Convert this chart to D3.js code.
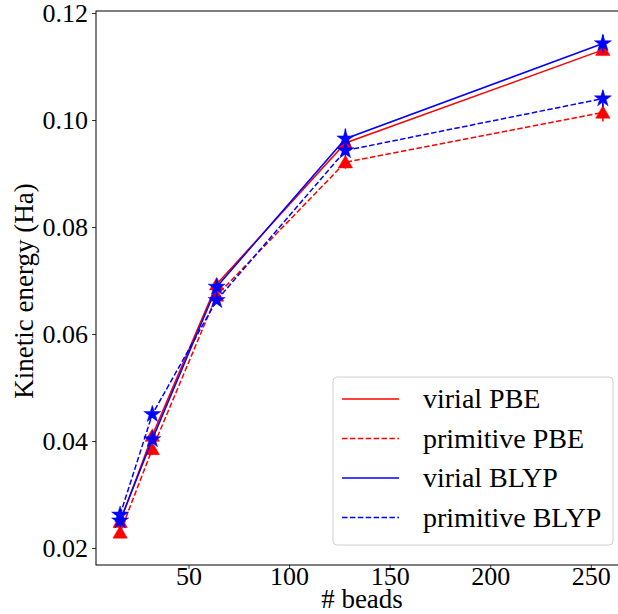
<!DOCTYPE html>
<html><head><meta charset="utf-8">
<script src="https://cdn.jsdelivr.net/npm/d3@7"></script>
<style>html,body{margin:0;padding:0;background:#fff;overflow:hidden}</style>
</head><body>
<svg id="c" width="618" height="614"></svg>
<script>
const beads = [16, 32, 64, 128, 256];
const virialPBE = [0.0249, 0.0410, 0.0693, 0.0957, 0.1131];
const virialPBEErr = [0.0010, 0.0008, 0.0008, 0.0012, 0.0008];
const primitivePBE = [0.0229, 0.0385, 0.0672, 0.0921, 0.1014];
const primitivePBEErr = [0.0006, 0.0006, 0.0008, 0.0012, 0.0017];
const virialBLYP = [0.0251, 0.0403, 0.0688, 0.0965, 0.1143];
const virialBLYPErr = [0.0012, 0.0008, 0.0008, 0.0019, 0.0017];
const primitiveBLYP = [0.0262, 0.0450, 0.0663, 0.0943, 0.1040];
const primitiveBLYPErr = [0.0006, 0.0006, 0.0006, 0.0010, 0.0015];
const xTicks = [50, 100, 150, 200, 250];
const yTicks = [0.02, 0.04, 0.06, 0.08, 0.10, 0.12];

const series = [
  {name: "virial PBE", vals: virialPBE, err: virialPBEErr, color: "#ff0000", dash: null, marker: "tri"},
  {name: "primitive PBE", vals: primitivePBE, err: primitivePBEErr, color: "#ff0000", dash: "5.5,2.4", marker: "tri"},
  {name: "virial BLYP", vals: virialBLYP, err: virialBLYPErr, color: "#0000ff", dash: null, marker: "star"},
  {name: "primitive BLYP", vals: primitiveBLYP, err: primitiveBLYPErr, color: "#0000ff", dash: "5.5,2.4", marker: "star"}
];

const FONT = "Liberation Serif";
const svg = d3.select("#c");
const L = 96, R = 627, T = 11, B = 565;
const x = d3.scaleLinear().domain([4, 268]).range([L, R]);
const y = d3.scaleLinear().domain([0.02, 0.12]).range([548, 13]);

// axes
const xa = svg.append("g").attr("transform", `translate(0,${B})`)
  .call(d3.axisBottom(x).tickValues(xTicks).tickSize(4).tickPadding(-2).tickFormat(d3.format("d")));
const ya = svg.append("g").attr("transform", `translate(${L},0)`)
  .call(d3.axisLeft(y).tickValues(yTicks).tickSize(4).tickPadding(4).tickFormat(d3.format(".2f")));
[xa, ya].forEach(a => {
  a.attr("font-family", FONT).attr("font-size", 26);
  a.select(".domain").remove();
  a.selectAll("line").attr("stroke", "#000").attr("stroke-width", 0.8);
  a.selectAll("text").style("font-family", FONT).style("font-size", "26px").attr("fill", "#000");
});
xa.selectAll("text").attr("dy", "0.71em");

// series
const clipId = "clipArea";
svg.append("clipPath").attr("id", clipId).append("rect").attr("x", L).attr("y", T).attr("width", R - L).attr("height", B - T);
const plot = svg.append("g").attr("clip-path", `url(#${clipId})`);
const line = d3.line().x((d, i) => x(beads[i])).y(d => y(d));
const triSym = d3.symbol().type(d3.symbolTriangle).size(90);
const starSym = d3.symbol().type(d3.symbolStar).size(90);

series.forEach(s => {
  const g = plot.append("g");
  g.append("path").datum(s.vals).attr("d", line).attr("fill", "none")
    .attr("stroke", s.color).attr("stroke-width", 1.5).attr("stroke-dasharray", s.dash);
  g.selectAll("line.err").data(s.vals).join("line")
    .attr("x1", (d, i) => x(beads[i])).attr("x2", (d, i) => x(beads[i]))
    .attr("y1", (d, i) => y(d - s.err[i])).attr("y2", (d, i) => y(d + s.err[i]))
    .attr("stroke", s.color).attr("stroke-width", 1.5);
  g.selectAll("path.m").data(s.vals).join("path")
    .attr("d", s.marker === "tri" ? triSym : starSym)
    .attr("transform", (d, i) => `translate(${x(beads[i])},${y(d) + (s.marker === "tri" ? 1.5 : 0)})`)
    .attr("fill", s.color).attr("stroke", s.color).attr("stroke-width", 0.5);
});

// frame
svg.append("rect").attr("x", L).attr("y", T).attr("width", R - L).attr("height", B - T)
  .attr("fill", "none").attr("stroke", "#000").attr("stroke-width", 1);

// axis labels
svg.append("text").attr("x", 362).attr("y", 608).attr("text-anchor", "middle")
  .style("font-family", FONT).style("font-size", "27px").text("# beads");
svg.append("text").attr("transform", `translate(33,291) rotate(-90)`).attr("text-anchor", "middle")
  .style("font-family", FONT).style("font-size", "27px").text("Kinetic energy (Ha)");

// legend
const lg = svg.append("g");
lg.append("rect").attr("x", 333).attr("y", 377).attr("width", 280).attr("height", 168).attr("rx", 4)
  .attr("fill", "#fff").attr("fill-opacity", 0.8).attr("stroke", "#d0d0d0").attr("stroke-width", 1);
series.forEach((s, i) => {
  const yy = 399 + i * 39.5;
  lg.append("line").attr("x1", 342).attr("x2", 399).attr("y1", yy).attr("y2", yy)
    .attr("stroke", s.color).attr("stroke-width", 1.5).attr("stroke-dasharray", s.dash);
  lg.append("text").attr("x", 423).attr("y", yy + 9)
    .style("font-family", FONT).style("font-size", "28px").text(s.name);
});
</script>
</body></html>
